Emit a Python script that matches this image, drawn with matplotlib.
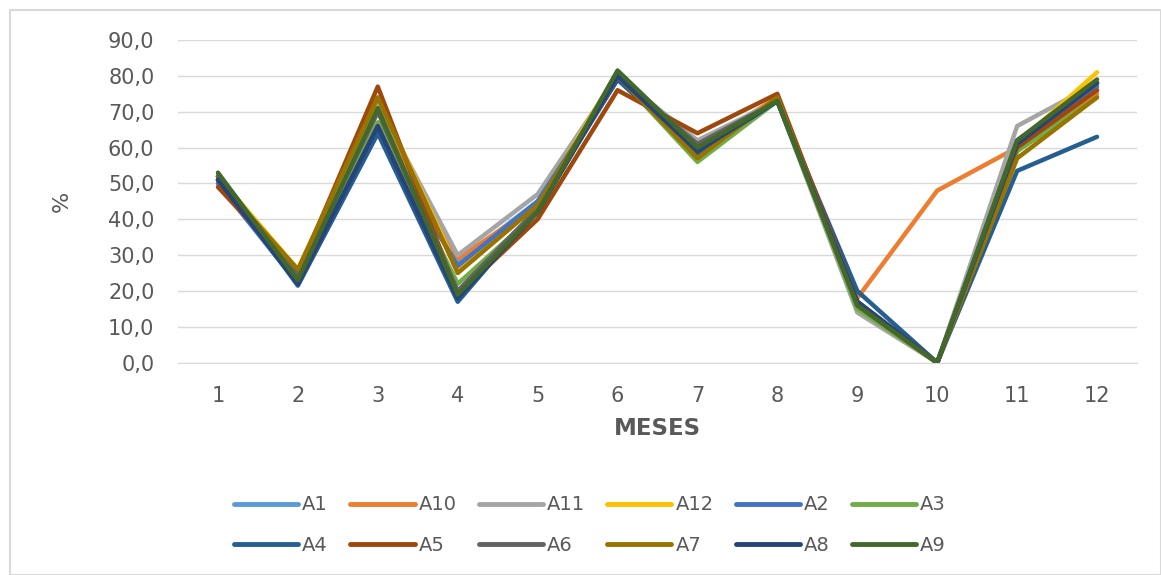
import matplotlib.pyplot as plt
from matplotlib.patches import Rectangle
from matplotlib.ticker import FuncFormatter

plt.rcParams['font.family'] = ['DejaVu Sans']

meses = [1, 2, 3, 4, 5, 6, 7, 8, 9, 10, 11, 12]

a1 = [51, 23, 67, 28, 45, 80, 58, 73, 17, 0, 60, 76]
a10 = [51, 24, 70, 29, 44, 79, 60, 74, 18, 48, 60, 75]
a11 = [52, 25, 72, 30, 47, 80, 62, 73, 14, 0, 66, 78]
a12 = [52, 26, 74, 26, 44, 81, 57, 74, 16, 0, 61, 81]
a2 = [50, 22, 64, 27, 45, 79, 59, 73, 17, 0, 59, 77]
a3 = [51, 24, 67, 22, 42, 80, 56, 73, 15, 0, 59, 74]
a4 = [52, 21.5, 64, 17, 43, 79, 58.5, 73, 20, 0, 53.5, 63]
a5 = [49, 25, 77, 19, 40, 76, 64, 75, 17, 0, 60, 76]
a6 = [52, 24, 70, 20, 43, 80, 61, 73, 16, 0, 62, 78]
a7 = [51, 26, 74, 25, 44, 80, 57, 74, 16, 0, 57, 74]
a8 = [51, 22, 66, 18, 42, 80, 59, 73, 17, 0, 61, 78]
a9 = [53, 23, 71, 19, 42, 81.5, 60, 73, 16, 0, 62, 79]

series = [
    ('A1', a1, '#5B9BD5'), ('A10', a10, '#ED7D31'), ('A11', a11, '#A5A5A5'),
    ('A12', a12, '#FFC000'), ('A2', a2, '#4472C4'), ('A3', a3, '#70AD47'),
    ('A4', a4, '#255E91'), ('A5', a5, '#9E480E'), ('A6', a6, '#636363'),
    ('A7', a7, '#997300'), ('A8', a8, '#264478'), ('A9', a9, '#43682B'),
]

fig = plt.figure(figsize=(11.61, 5.75), dpi=100)
ax = fig.add_axes([178 / 1161, 1 - 362.7 / 575, (1137 - 178) / 1161, (362.7 - 40) / 575])

for name, vals, col in series:
    ax.plot(meses, vals, color=col, lw=3.2, label=name,
            solid_joinstyle='round', solid_capstyle='round')

ax.set_xlim(0.5, 12.5)
ax.set_ylim(0, 90)
ax.set_yticks(range(0, 91, 10))
ax.set_xticks(meses)
ax.yaxis.set_major_formatter(FuncFormatter(lambda v, p: f'{v:.1f}'.replace('.', ',')))
ax.grid(axis='y', color='#D9D9D9', lw=1)
ax.set_axisbelow(True)
for s in ['top', 'right', 'left']:
    ax.spines[s].set_visible(False)
ax.spines['bottom'].set_color('#D9D9D9')
ax.tick_params(length=0, labelsize=15, colors='#595959')
ax.tick_params(axis='y', pad=17)
ax.tick_params(axis='x', pad=17)

ax.set_xlabel('MESES', fontsize=16.5, fontweight='bold', color='#595959', labelpad=8)
ax.set_ylabel('%', fontsize=16, color='#595959', labelpad=26)

# legend is filled column by column, so interleave the two rows
handles, labels = ax.get_legend_handles_labels()
order = [0, 6, 1, 7, 2, 8, 3, 9, 4, 10, 5, 11]
leg = fig.legend([handles[i] for i in order], [labels[i] for i in order], ncol=6, loc='center',
                 bbox_to_anchor=(590 / 1161, 1 - 525 / 575),
                 frameon=False, fontsize=14, handlelength=3.3, handletextpad=0.2,
                 columnspacing=1.15, labelspacing=1.1, labelcolor='#595959')
for line in leg.get_lines():
    line.set_linewidth(3.5)
    line.set_solid_capstyle('round')

fig.patches.append(Rectangle((10 / 1161, 0), 1 - 10 / 1161, 1 - 10 / 575, transform=fig.transFigure,
                             fill=False, edgecolor='#D9D9D9', lw=1.5))

fig.savefig('out.png', dpi=100)
